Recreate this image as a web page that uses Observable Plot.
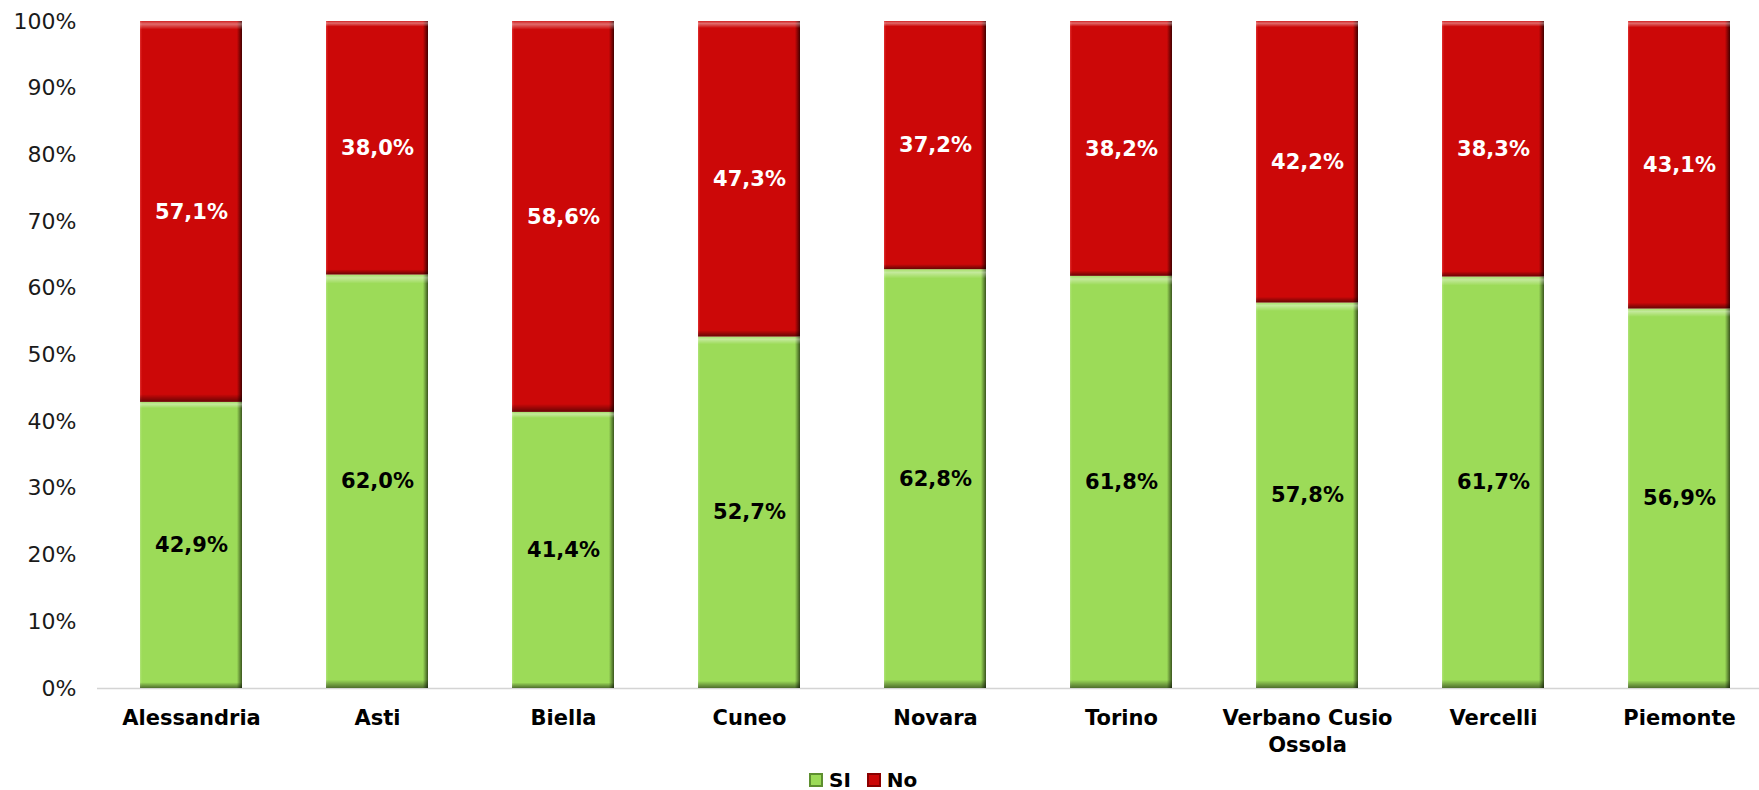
<!DOCTYPE html>
<html>
<head>
<meta charset="utf-8">
<script src="https://cdn.jsdelivr.net/npm/d3@7"></script>
<script src="https://cdn.jsdelivr.net/npm/@observablehq/plot@0.6"></script>
<style>
  html, body { margin: 0; padding: 0; background: #fff; }
  body { width: 1759px; height: 790px; overflow: hidden; position: relative; font-family: "DejaVu Sans", Verdana, sans-serif; }
  #legend { position: absolute; left: 809px; top: 771px; height: 18px; line-height: 18px; display: flex; align-items: center; font-weight: bold; font-size: 20px; color: #000; }
  #legend .sw { width: 14px; height: 14px; display: inline-block; margin-right: 6px; box-sizing: border-box; }
  #legend .item { display: flex; align-items: center; margin-right: 16px; }
</style>
</head>
<body>
<div id="chart"></div>
<div id="legend"></div>
<script>
const regions = ["Alessandria","Asti","Biella","Cuneo","Novara","Torino","Verbano Cusio Ossola","Vercelli","Piemonte"];
const siValues = [42.9,62.0,41.4,52.7,62.8,61.8,57.8,61.7,56.9];
const noValues = [57.1,38.0,58.6,47.3,37.2,38.2,42.2,38.3,43.1];
const seriesNames = ["SI","No"];
const yTicks = [0,10,20,30,40,50,60,70,80,90,100];
const regionLabels = {"Verbano Cusio Ossola": "Verbano Cusio\nOssola"};

const colors = {SI: "#9CDB58", No: "#CC0808"};
const data = [];
regions.forEach((r, i) => {
  data.push({region: r, series: "SI", value: siValues[i]});
  data.push({region: r, series: "No", value: noValues[i]});
});
const fmt = v => v.toFixed(1).replace(".", ",") + "%";

const stackOpts = {x: "region", y: "value", z: "series", order: seriesNames};

const chart = Plot.plot({
  width: 1759,
  height: 760,
  marginTop: 21,
  marginBottom: 72,
  marginLeft: 97,
  marginRight: -15,
  style: {fontFamily: "DejaVu Sans, Verdana, sans-serif", background: "white", overflow: "hidden"},
  x: {domain: regions, paddingInner: 0.45, paddingOuter: 0.225, label: null},
  y: {domain: [0, 100], label: null},
  color: {domain: seriesNames, range: ["url(#gGreen)", "url(#gRed)"]},
  marks: [
    Plot.ruleY([0], {stroke: "#d4d4d4", strokeWidth: 1.5}),
    Plot.barY(data, Plot.stackY({...stackOpts, fill: "series"})),
    Plot.barY(data, Plot.stackY({...stackOpts, fill: "url(#gShade)"})),
    Plot.text(data, Plot.stackY({...stackOpts, text: d => fmt(d.value),
      fill: d => d.series === "SI" ? "#000" : "#fff",
      fontSize: 21, fontWeight: "bold", letterSpacing: 1.6})),
    Plot.axisY({ticks: yTicks, tickFormat: d => d + "%", tickSize: 0, tickPadding: 21, fontSize: 22, fill: "#1a1a1a", label: null}),
    Plot.axisX({tickSize: 0, tickPadding: 17, fontSize: 21, fontWeight: "bold", fill: "#000", lineHeight: 1.3,
      tickFormat: d => regionLabels[d] || d, label: null})
  ]
});

// gradient defs for the bevelled bars
const svg = d3.select(chart);
const defs = svg.insert("defs", ":first-child");
function hGrad(id, light, main, dark) {
  const g = defs.append("linearGradient").attr("id", id).attr("x1", 0).attr("x2", 1).attr("y1", 0).attr("y2", 0);
  g.append("stop").attr("offset", "0").attr("stop-color", light);
  g.append("stop").attr("offset", "0.02").attr("stop-color", main);
  g.append("stop").attr("offset", "0.95").attr("stop-color", main);
  g.append("stop").attr("offset", "1").attr("stop-color", dark);
}
hGrad("gGreen", "#b0e47a", colors.SI, "#3a551e");
hGrad("gRed", "#e03030", colors.No, "#420000");
const v = defs.append("linearGradient").attr("id", "gShade").attr("x1", 0).attr("x2", 0).attr("y1", 0).attr("y2", 1);
v.append("stop").attr("offset", "0").attr("stop-color", "#ffffff").attr("stop-opacity", 0.1);
v.append("stop").attr("offset", "0.008").attr("stop-color", "#ffffff").attr("stop-opacity", 0.4);
v.append("stop").attr("offset", "0.022").attr("stop-color", "#ffffff").attr("stop-opacity", 0.0);
v.append("stop").attr("offset", "0.98").attr("stop-color", "#000000").attr("stop-opacity", 0.0);
v.append("stop").attr("offset", "1").attr("stop-color", "#000000").attr("stop-opacity", 0.5);

document.getElementById("chart").appendChild(chart);

const legend = document.getElementById("legend");
seriesNames.forEach(s => {
  const item = document.createElement("span");
  item.className = "item";
  const sw = document.createElement("span");
  sw.className = "sw";
  sw.style.background = colors[s];
  sw.style.border = "2px solid " + (s === "SI" ? "#5e8f30" : "#8a0000");
  item.appendChild(sw);
  item.appendChild(document.createTextNode(s));
  legend.appendChild(item);
});
</script>
</body>
</html>
